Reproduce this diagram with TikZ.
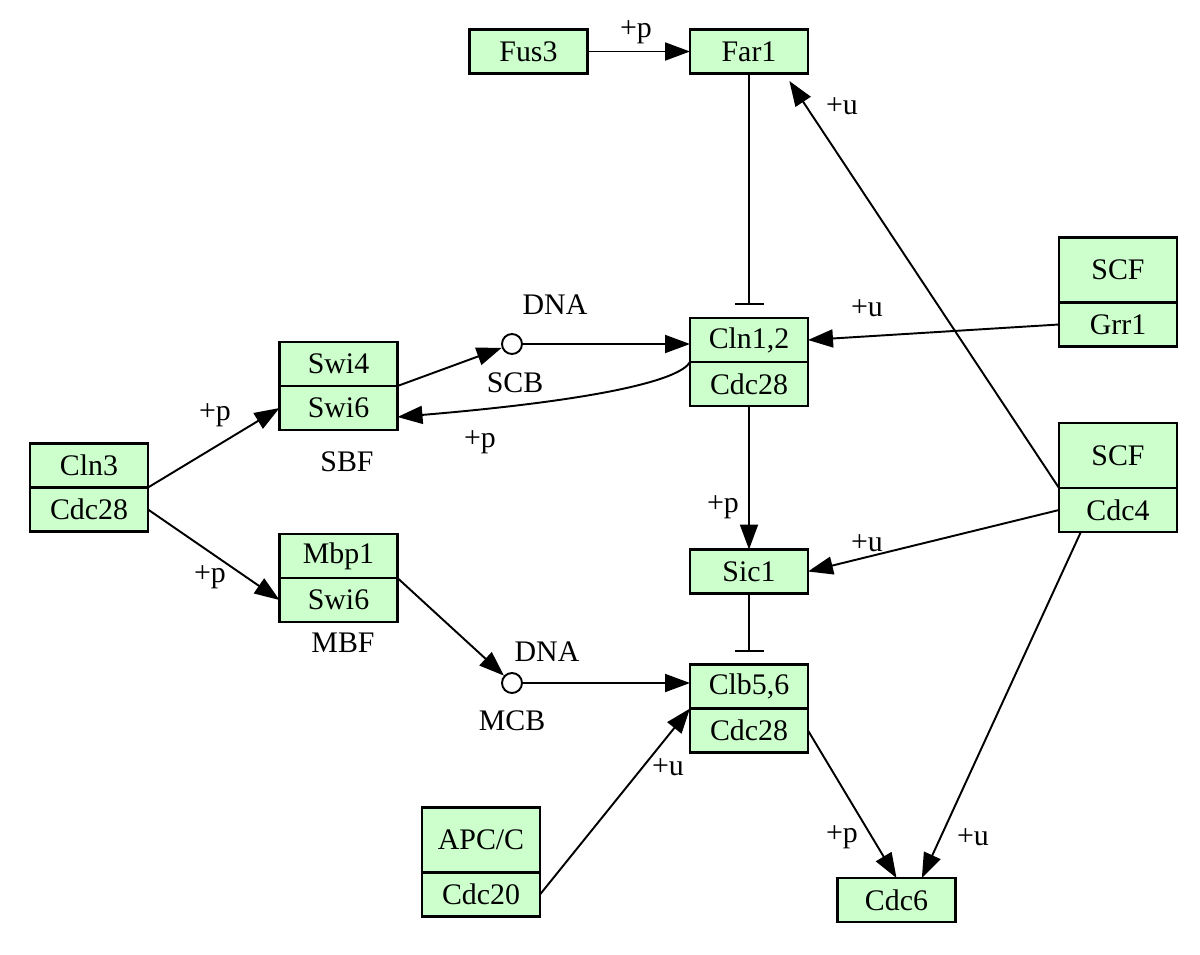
\documentclass[tikz,border=0pt]{standalone}
\usepackage{fontspec}
\setmainfont{Liberation Serif}
\usetikzlibrary{arrows.meta,positioning,calc}
\definecolor{keggreen}{RGB}{204,255,204}

\begin{document}
\begin{tikzpicture}[x=0.02cm,y=-0.02cm,
	font=\fontsize{17}{20}\selectfont,
	gene/.style={draw,line width=1.4pt,fill=keggreen,minimum width=2.36cm,minimum height=0.88cm,inner sep=0pt,outer sep=0pt},
	tallgene/.style={gene,minimum height=1.3cm},
	site/.style={draw,circle,line width=1.1pt,minimum size=0.4cm,inner sep=0pt},
	act/.style={line width=1.1pt,-{Triangle[length=0.5cm,width=0.36cm]}},
	inh/.style={line width=1.1pt,-{Bar[width=0.58cm]},shorten >=0.26cm},
	lbl/.style={inner sep=0pt}]

	\useasboundingbox (0,0) rectangle (1200,954);

	\node[gene] (fus) at (528.5,51.5) {Fus3};
	\node[gene] (far) at (749,51.5) {Far1};
	\node[gene] (clnA) at (749,340) {Cln1,2};
	\node[gene,below=0pt of clnA] (clnB) {Cdc28};
	\node[gene] (sic) at (749,571.5) {Sic1};
	\node[gene] (clbA) at (749,686.5) {Clb5,6};
	\node[gene,below=0pt of clbA] (clbB) {Cdc28};
	\node[gene] (cdcsix) at (896.5,900) {Cdc6};
	\node[tallgene] (scfA) at (1118,270) {SCF};
	\node[gene,below=0pt of scfA] (grr) {Grr1};
	\node[tallgene] (scfB) at (1118,455.5) {SCF};
	\node[gene,below=0pt of scfB] (cdcfour) {Cdc4};
	\node[gene] (clnthree) at (89,465.5) {Cln3};
	\node[gene,below=0pt of clnthree] (cdcA) {Cdc28};
	\node[gene] (swifour) at (338.5,364) {Swi4};
	\node[gene,below=0pt of swifour] (swisixA) {Swi6};
	\node[gene] (mbp) at (338.5,556) {Mbp1};
	\node[gene,below=0pt of mbp] (swisixB) {Swi6};
	\node[tallgene] (apc) at (481,840) {APC/C};
	\node[gene,below=0pt of apc] (cdctwenty) {Cdc20};
	\node[site] (scb) at (512,344) {};
	\node[site] (mcb) at (512,683) {};

	\node[lbl] (dnaA) at (555,305) {DNA};
	\node[lbl] (scbl) at (515,383) {SCB};
	\node[lbl] (sbf) at (347,462) {SBF};
	\node[lbl] (dnaB) at (547,652) {DNA};
	\node[lbl] (mcbl) at (512,721) {MCB};
	\node[lbl] (mbf) at (343,643) {MBF};

	\node[lbl] (pA) at (636,32) {+p};
	\node[lbl] (pB) at (480,442) {+p};
	\node[lbl] (pC) at (215,415) {+p};
	\node[lbl] (pD) at (210,577) {+p};
	\node[lbl] (pE) at (723,507) {+p};
	\node[lbl] (pF) at (842,837) {+p};
	\node[lbl] (uA) at (842,106) {+u};
	\node[lbl] (uB) at (867,308) {+u};
	\node[lbl] (uC) at (867,543) {+u};
	\node[lbl] (uD) at (668,767) {+u};
	\node[lbl] (uE) at (973,837) {+u};

	\draw[act] (fus) -- (far);
	\draw[inh] (far) -- (clnA);
	\draw[act] (grr.west) -- (clnA.east);
	\draw[act] (scb) -- (scb -| clnA.west);
	\draw[act] (clnA.south west) .. controls (680,380) and (600,400) .. ([yshift=-0.18cm]swisixA.east);
	\draw[act] (swifour.south east) -- (scb);
	\draw[act] (clnthree.south east) -- (swisixA.west);
	\draw[act] (cdcA.east) -- (swisixB.west);
	\draw[act] (mbp.south east) -- (mcb);
	\draw[act] (mcb) -- (mcb -| clbA.west);
	\draw[act] (cdctwenty.east) -- (clbB.north west);
	\draw[act] (clnB) -- (sic);
	\draw[inh] (sic) -- (clbA);
	\draw[act] (cdcfour.west) -- (sic.east);
	\draw[act,shorten >=0.18cm] (cdcfour.north west) -- ($(far.south)!0.6!(far.south east)$);
	\draw[act] ($(cdcfour.south west)!0.37!(cdcfour.south)$) -- ($(cdcsix.north)!0.43!(cdcsix.north east)$);
	\draw[act] (clbB.east) -- (cdcsix.north);

\end{tikzpicture}
\end{document}
